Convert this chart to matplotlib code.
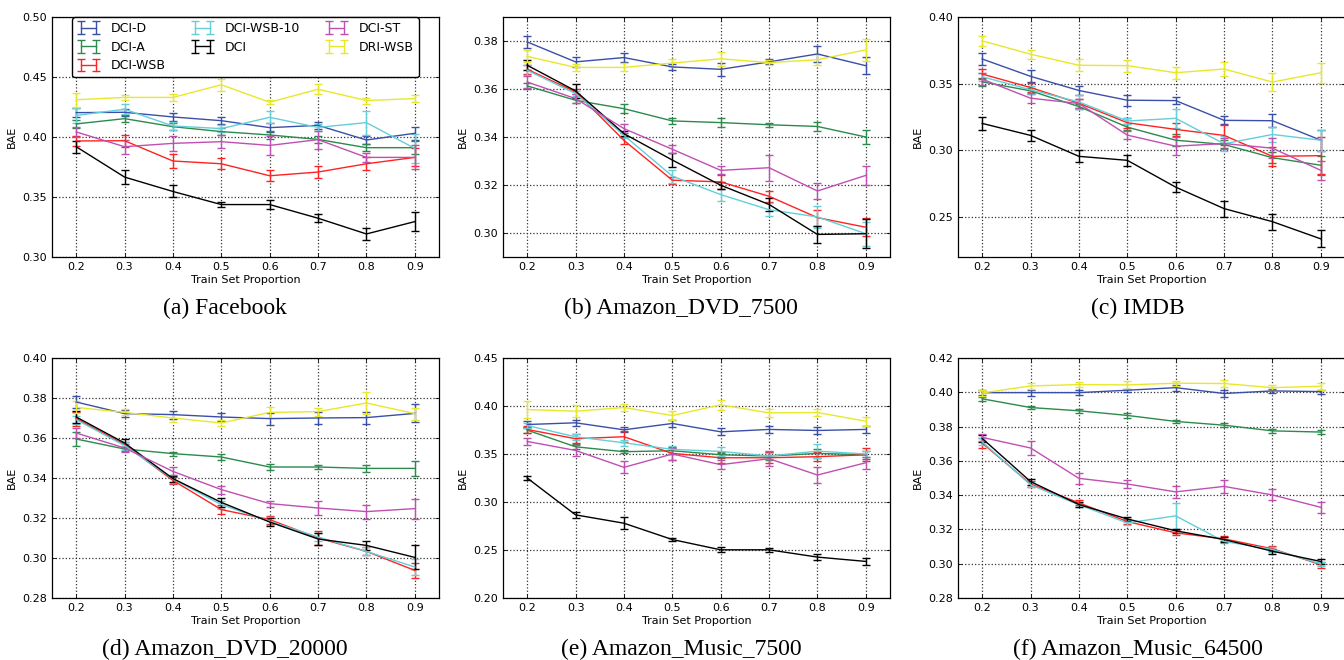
import numpy as np
import matplotlib
matplotlib.use("Agg")
import matplotlib.pyplot as plt
from matplotlib.ticker import FormatStrFormatter

train_prop = [0.2, 0.3, 0.4, 0.5, 0.6, 0.7, 0.8, 0.9]
methods = ["DCI-D", "DCI-A", "DCI-WSB", "DCI-WSB-10", "DCI", "DCI-ST", "DRI-WSB"]
colores = ["#3a4fa8", "#2b8a4c", "#ff2222", "#62cfd9", "#000000", "#c04fb2", "#e8e82a"]

# filas en el orden de "methods"
facebook = [
    [0.4203, 0.4206, 0.4167, 0.4136, 0.4078, 0.4097, 0.3975, 0.4031],
    [0.4109, 0.4153, 0.4086, 0.4045, 0.4017, 0.3980, 0.3911, 0.3911],
    [0.3967, 0.3969, 0.3800, 0.3777, 0.3677, 0.3708, 0.3777, 0.3830],
    [0.4180, 0.4231, 0.4092, 0.4070, 0.4164, 0.4080, 0.4120, 0.3905],
    [0.3919, 0.3666, 0.3546, 0.3437, 0.3437, 0.3323, 0.3192, 0.3295],
    [0.4042, 0.3919, 0.3947, 0.3961, 0.3930, 0.3978, 0.3830, 0.3830],
    [0.4310, 0.4330, 0.4330, 0.4435, 0.4290, 0.4398, 0.4304, 0.4320],
]
facebook_err = [
    [0.004, 0.003, 0.0036, 0.003, 0.004, 0.003, 0.003, 0.0056],
    [0.003, 0.003, 0.003, 0.003, 0.003, 0.003, 0.003, 0.0056],
    [0.0045, 0.005, 0.006, 0.0045, 0.0047, 0.0048, 0.0056, 0.0075],
    [0.006, 0.004, 0.003, 0.003, 0.005, 0.003, 0.010, 0.012],
    [0.005, 0.0055, 0.005, 0.0024, 0.004, 0.0035, 0.005, 0.008],
    [0.0045, 0.006, 0.006, 0.0056, 0.008, 0.0075, 0.0035, 0.010],
    [0.0056, 0.002, 0.003, 0.005, 0.0017, 0.004, 0.0025, 0.003],
]

dvd_7500 = [
    [0.3796, 0.3713, 0.3731, 0.3692, 0.3682, 0.3713, 0.3746, 0.3697],
    [0.3613, 0.3553, 0.3518, 0.3467, 0.3460, 0.3451, 0.3444, 0.3400],
    [0.3682, 0.3588, 0.3386, 0.3220, 0.3213, 0.3153, 0.3064, 0.3024],
    [0.3678, 0.3581, 0.3407, 0.3237, 0.3160, 0.3097, 0.3067, 0.2997],
    [0.3699, 0.3592, 0.3414, 0.3304, 0.3199, 0.3119, 0.2994, 0.2997],
    [0.3629, 0.3560, 0.3435, 0.3349, 0.3261, 0.3272, 0.3175, 0.3240],
    [0.3736, 0.3690, 0.3690, 0.3708, 0.3726, 0.3710, 0.3722, 0.3763],
]
dvd_7500_err = [
    [0.0025, 0.002, 0.002, 0.0013, 0.0027, 0.001, 0.0035, 0.0036],
    [0.0013, 0.001, 0.002, 0.0012, 0.002, 0.0008, 0.002, 0.003],
    [0.002, 0.001, 0.0015, 0.0014, 0.003, 0.0023, 0.0033, 0.0037],
    [0.002, 0.001, 0.001, 0.0027, 0.0025, 0.0026, 0.0046, 0.005],
    [0.002, 0.003, 0.001, 0.003, 0.0015, 0.0027, 0.0034, 0.006],
    [0.0026, 0.002, 0.002, 0.0017, 0.0017, 0.0055, 0.0034, 0.0038],
    [0.0025, 0.0014, 0.0017, 0.0016, 0.003, 0.0012, 0.0022, 0.0045],
]

imdb = [
    [0.3685, 0.3555, 0.3449, 0.3376, 0.3373, 0.3225, 0.3222, 0.3076],
    [0.3514, 0.3446, 0.3328, 0.3174, 0.3076, 0.3044, 0.2945, 0.2888],
    [0.3572, 0.3471, 0.3353, 0.3207, 0.3157, 0.3112, 0.2955, 0.2960],
    [0.3552, 0.3454, 0.3363, 0.3220, 0.3240, 0.3049, 0.3119, 0.3076],
    [0.3202, 0.3112, 0.2955, 0.2925, 0.2724, 0.2563, 0.2465, 0.2336],
    [0.3534, 0.3391, 0.3351, 0.3114, 0.3031, 0.3051, 0.3016, 0.2850],
    [0.3821, 0.3721, 0.3638, 0.3635, 0.3582, 0.3610, 0.3512, 0.3582],
]
imdb_err = [
    [0.0048, 0.0044, 0.0036, 0.004, 0.0028, 0.003, 0.0048, 0.008],
    [0.003, 0.002, 0.002, 0.002, 0.0044, 0.003, 0.004, 0.007],
    [0.0038, 0.0035, 0.0035, 0.0038, 0.005, 0.0075, 0.007, 0.014],
    [0.003, 0.003, 0.005, 0.0025, 0.007, 0.0056, 0.0056, 0.008],
    [0.005, 0.004, 0.0045, 0.0043, 0.0038, 0.006, 0.006, 0.0063],
    [0.0046, 0.0038, 0.0035, 0.003, 0.0068, 0.004, 0.0074, 0.0073],
    [0.0038, 0.0035, 0.0046, 0.0044, 0.0046, 0.005, 0.0065, 0.0074],
]

dvd_20000 = [
    [0.3780, 0.3722, 0.3717, 0.3705, 0.3697, 0.3700, 0.3702, 0.3723],
    [0.3595, 0.3545, 0.3522, 0.3505, 0.3455, 0.3455, 0.3448, 0.3448],
    [0.3697, 0.3567, 0.3388, 0.3242, 0.3192, 0.3100, 0.3033, 0.2938],
    [0.3692, 0.3562, 0.3395, 0.3267, 0.3183, 0.3105, 0.3033, 0.2955],
    [0.3705, 0.3575, 0.3397, 0.3278, 0.3180, 0.3095, 0.3063, 0.3003],
    [0.3625, 0.3550, 0.3433, 0.3342, 0.3272, 0.3250, 0.3232, 0.3247],
    [0.3753, 0.3728, 0.3700, 0.3675, 0.3728, 0.3732, 0.3775, 0.3722],
]
dvd_20000_err = [
    [0.003, 0.0017, 0.002, 0.002, 0.003, 0.003, 0.003, 0.0045],
    [0.0033, 0.0012, 0.001, 0.0014, 0.0017, 0.001, 0.0017, 0.0036],
    [0.0035, 0.0015, 0.0018, 0.0022, 0.002, 0.0035, 0.002, 0.0037],
    [0.002, 0.002, 0.002, 0.002, 0.002, 0.002, 0.002, 0.004],
    [0.003, 0.002, 0.0015, 0.0022, 0.0018, 0.003, 0.0022, 0.006],
    [0.0025, 0.002, 0.002, 0.002, 0.0015, 0.0037, 0.0035, 0.005],
    [0.003, 0.0015, 0.002, 0.0013, 0.0027, 0.002, 0.0055, 0.003],
]

music_7500 = [
    [0.3807, 0.3825, 0.3752, 0.3818, 0.3731, 0.3756, 0.3745, 0.3756],
    [0.3749, 0.3575, 0.3524, 0.3534, 0.3492, 0.3479, 0.3506, 0.3492],
    [0.3756, 0.3659, 0.3680, 0.3506, 0.3461, 0.3461, 0.3472, 0.3492],
    [0.3797, 0.3679, 0.3617, 0.3548, 0.3527, 0.3479, 0.3530, 0.3500],
    [0.3250, 0.2866, 0.2779, 0.2609, 0.2502, 0.2502, 0.2426, 0.2381],
    [0.3631, 0.3537, 0.3361, 0.3500, 0.3389, 0.3451, 0.3281, 0.3409],
    [0.3963, 0.3946, 0.3984, 0.3901, 0.4012, 0.3929, 0.3932, 0.3842],
]
music_7500_err = [
    [0.004, 0.003, 0.0026, 0.0038, 0.0035, 0.004, 0.004, 0.0038],
    [0.003, 0.0025, 0.0017, 0.003, 0.003, 0.004, 0.005, 0.004],
    [0.0035, 0.0048, 0.006, 0.007, 0.005, 0.0055, 0.005, 0.0066],
    [0.003, 0.003, 0.003, 0.004, 0.005, 0.003, 0.007, 0.003],
    [0.002, 0.003, 0.006, 0.002, 0.0026, 0.002, 0.0035, 0.004],
    [0.0035, 0.0055, 0.0064, 0.0064, 0.0045, 0.008, 0.0087, 0.0064],
    [0.009, 0.006, 0.004, 0.0045, 0.005, 0.004, 0.004, 0.0047],
]

music_64500 = [
    [0.3998, 0.3998, 0.3998, 0.4012, 0.4027, 0.3993, 0.4008, 0.4004],
    [0.3962, 0.3911, 0.3892, 0.3865, 0.3830, 0.3808, 0.3775, 0.3768],
    [0.3704, 0.3465, 0.3355, 0.3246, 0.3180, 0.3145, 0.3087, 0.2994],
    [0.3711, 0.3460, 0.3344, 0.3238, 0.3279, 0.3130, 0.3083, 0.2999],
    [0.3731, 0.3479, 0.3345, 0.3261, 0.3192, 0.3141, 0.3073, 0.3013],
    [0.3737, 0.3675, 0.3498, 0.3465, 0.3419, 0.3451, 0.3401, 0.3329],
    [0.3996, 0.4037, 0.4045, 0.4043, 0.4053, 0.4051, 0.4027, 0.4035],
]
music_64500_err = [
    [0.0015, 0.0017, 0.0015, 0.001, 0.0017, 0.002, 0.0012, 0.0012],
    [0.001, 0.001, 0.001, 0.0013, 0.001, 0.001, 0.0013, 0.0012],
    [0.003, 0.0015, 0.0015, 0.0015, 0.0015, 0.0015, 0.0015, 0.0018],
    [0.002, 0.0015, 0.0013, 0.0015, 0.0075, 0.0012, 0.0013, 0.0013],
    [0.002, 0.0017, 0.0015, 0.0013, 0.0012, 0.0015, 0.0014, 0.0015],
    [0.002, 0.004, 0.0033, 0.0025, 0.0036, 0.004, 0.0032, 0.0033],
    [0.0017, 0.002, 0.0017, 0.0022, 0.0015, 0.002, 0.0015, 0.002],
]

titulos = ["(a) Facebook", "(b) Amazon_DVD_7500", "(c) IMDB",
           "(d) Amazon_DVD_20000", "(e) Amazon_Music_7500", "(f) Amazon_Music_64500"]
datos = [(facebook, facebook_err), (dvd_7500, dvd_7500_err), (imdb, imdb_err),
         (dvd_20000, dvd_20000_err), (music_7500, music_7500_err), (music_64500, music_64500_err)]
limites_y = [(0.30, 0.50), (0.29, 0.39), (0.22, 0.40), (0.28, 0.40), (0.20, 0.45), (0.28, 0.42)]
ticks_y = [np.arange(0.30, 0.501, 0.05), np.arange(0.30, 0.381, 0.02), np.arange(0.25, 0.401, 0.05),
           np.arange(0.28, 0.401, 0.02), np.arange(0.20, 0.451, 0.05), np.arange(0.28, 0.421, 0.02)]

plt.rcParams['font.family'] = 'DejaVu Sans'
W, H = 1344, 660
fig = plt.figure(figsize=(W / 100, H / 100), dpi=100)

izquierdas = [52, 503, 958]
arribas = [17, 358]
centros_titulo = [225, 681, 1138]
ancho, alto = 387, 240

for i, ((medias, errores), titulo) in enumerate(zip(datos, titulos)):
    fila, col = divmod(i, 3)
    l = izquierdas[col]
    t = arribas[fila]
    ax = fig.add_axes([l / W, (H - t - alto) / H, ancho / W, alto / H])
    for k in range(len(methods)):
        ax.errorbar(train_prop, medias[k], yerr=errores[k], color=colores[k],
                    lw=1.0, elinewidth=1.0, capsize=3, capthick=1.0, label=methods[k])
    ax.set_xlim(0.15, 0.95)
    ax.set_ylim(*limites_y[i])
    ax.set_xticks(train_prop)
    ax.set_yticks(ticks_y[i])
    ax.xaxis.set_major_formatter(FormatStrFormatter('%.1f'))
    ax.yaxis.set_major_formatter(FormatStrFormatter('%.2f'))
    ax.tick_params(labelsize=8, direction='in', length=3, width=0.6, top=True, right=True)
    ax.grid(True, linestyle=':', color='#333333', linewidth=0.9)
    ax.set_xlabel('Train Set Proportion', fontsize=8, labelpad=2)
    ax.set_ylabel('BAE', fontsize=8, labelpad=4)
    for s in ax.spines.values():
        s.set_linewidth(0.9)
    fig.text(centros_titulo[col] / W, 1 - (t + alto + 51) / H, titulo,
             family='Liberation Serif', fontsize=17, ha='center', va='center')
    if i == 0:
        ax.legend(ncol=3, loc='upper center', bbox_to_anchor=(0.5, 1.0), borderaxespad=0.0,
                  fontsize=9, frameon=True, edgecolor='black', fancybox=True,
                  numpoints=2, handlelength=1.8, handletextpad=0.9, columnspacing=2.0,
                  labelspacing=0.45, borderpad=0.4, framealpha=1.0)

fig.savefig('out.png', dpi=100)
